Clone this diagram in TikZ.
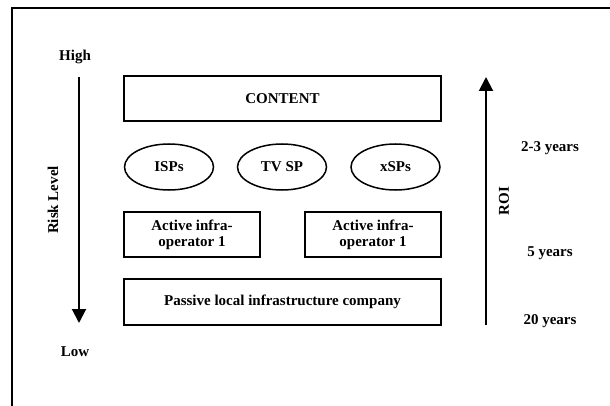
\documentclass[tikz,border=0pt]{standalone}
\usepackage{fontspec}
\setmainfont{Liberation Serif}
\usetikzlibrary{shapes.geometric,arrows.meta}
\tikzset{
  lbl/.style={font=\fontsize{15}{16}\selectfont\bfseries, inner sep=0pt, align=center},
  boxnode/.style={draw, line width=1.5pt, inner sep=0pt, font=\fontsize{15}{16}\selectfont\bfseries, align=center},
  ovalnode/.style={draw, ellipse, line width=1.5pt, minimum width=89pt, minimum height=46pt, inner sep=0pt, font=\fontsize{15}{16}\selectfont\bfseries},
  axis/.style={line width=2pt, -{Triangle[width=14pt,length=14pt]}},
}
\begin{document}
\begin{tikzpicture}[x=1pt,y=1pt]
\useasboundingbox (0,0) rectangle (610,405);
% frame (only top and left edges visible)
\coordinate (ftr) at (612,396.5);
\coordinate (ftl) at (12,396.5);
\coordinate (fbl) at (12,-2);
\draw[line width=2pt] (ftr) -- (ftl) -- (fbl);
% left axis
\node[lbl] (high) at (75,348) {High};
\node[lbl] (low) at (75,53) {Low};
\node[lbl, rotate=90] (risk) at (53,205) {Risk Level};
\coordinate (la1) at (79,328);
\coordinate (la2) at (79,82);
\draw[axis] (la1) -- (la2);
% boxes
\node[boxnode, minimum width=317pt, minimum height=45pt] (content) at (282.5,306.5) {CONTENT};
\node[ovalnode] (isp) at (169,238) {ISPs};
\node[ovalnode] (tvsp) at (282,238) {TV SP};
\node[ovalnode] (xsp) at (395.5,238) {xSPs};
\node[boxnode, minimum width=136pt, minimum height=45pt] (act1) at (192,170.5) {Active infra-\\operator 1};
\node[boxnode, minimum width=136pt, minimum height=45pt] (act2) at (373,170.5) {Active infra-\\operator 1};
\node[boxnode, minimum width=317pt, minimum height=46pt] (passive) at (282.5,103) {Passive local infrastructure company};
% right axis
\coordinate (ra1) at (486,80);
\coordinate (ra2) at (486,328);
\draw[axis] (ra1) -- (ra2);
\node[lbl, rotate=90] (roi) at (504,204) {ROI};
\node[lbl] (y23) at (550,257) {2-3 years};
\node[lbl] (y5) at (550,152) {5 years};
\node[lbl] (y20) at (550,84) {20 years};
\end{tikzpicture}
\end{document}
